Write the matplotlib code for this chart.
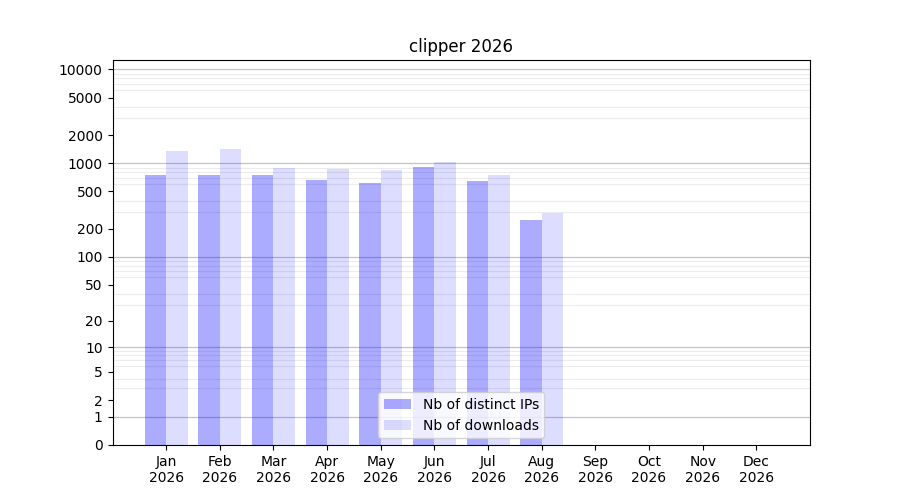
import numpy as np
import matplotlib
matplotlib.use("Agg")
import matplotlib.pyplot as plt
from matplotlib.ticker import FixedLocator, NullFormatter

months = ["Jan", "Feb", "Mar", "Apr", "May", "Jun", "Jul", "Aug", "Sep", "Oct", "Nov", "Dec"]
year = "2026"
distinct_ips = [750, 750, 750, 665, 618, 915, 648, 250]
downloads = [1350, 1420, 890, 870, 850, 1030, 752, 296]
ytick_values = [0, 1, 2, 5, 10, 20, 50, 100, 200, 500, 1000, 2000, 5000, 10000]

fig, ax = plt.subplots(figsize=(9, 5), dpi=100)

fwd = lambda v: np.log10(1 + np.maximum(v, 0))
inv = lambda v: 10 ** v - 1
ax.set_yscale("function", functions=(fwd, inv))

x_all = np.arange(1, 13)
x = np.arange(1, len(distinct_ips) + 1)
w = 0.4
ax.bar(x - w / 2, distinct_ips, width=w, color="blue", alpha=0.33, label="Nb of distinct IPs", zorder=2)
ax.bar(x + w / 2, downloads, width=w, color="blue", alpha=0.133, label="Nb of downloads", zorder=2)

# grid
minor = [m * 10 ** k for k in range(0, 4) for m in range(2, 10)]
ax.yaxis.set_minor_locator(FixedLocator(minor))
ax.yaxis.set_minor_formatter(NullFormatter())
ax.tick_params(axis="y", which="minor", length=0)
ax.grid(True, which="minor", axis="y", color="#ececec", linewidth=0.8, zorder=0.5)
for d in [1, 10, 100, 1000, 10000]:
    ax.axhline(d, color="#c4c4c4", linewidth=0.9, zorder=0.6)

ax.yaxis.set_major_locator(FixedLocator(ytick_values))
ax.set_yticklabels([str(v) for v in ytick_values])
ax.set_ylim(0, 10 ** 4.1 - 1)

ax.set_xticks(x_all)
ax.set_xticklabels([f"{m}\n{year}" for m in months])
ax.set_xlim(0, 13)

ax.set_title("clipper 2026")
ax.legend(loc="lower center")

fig.savefig("out.png", dpi=100)
